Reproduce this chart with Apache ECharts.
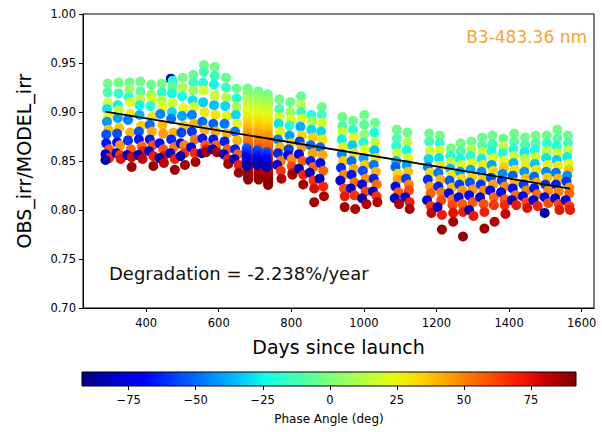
<!DOCTYPE html>
<html>
<head>
<meta charset="utf-8">
<title>Lunar irradiance ratio trend</title>
<script src="https://cdn.jsdelivr.net/npm/echarts@6/dist/echarts.min.js"></script>
<style>
  html, body { margin: 0; padding: 0; background: #fff; }
  #chart { width: 602px; height: 432px; }
</style>
</head>
<body>
<div id="chart"></div>
<script>
// Lunar observations grouped by monthly cycle: [day since launch, OBS/MODEL ratio, phase angle (deg)]
const monthlyObs = [
  [[294,0.929,-3],[294,0.920,-12],[294,0.909,18],[292,0.903,-28],[296,0.896,25],[292,0.890,-42],[296,0.882,38],[290,0.877,-55],[290,0.868,-66],[298,0.862,58],[288,0.857,-78],[298,0.853,68],[288,0.851,-86]],
  [[324,0.930,-2],[324,0.919,-16],[322,0.907,-26],[324,0.902,14],[322,0.894,-40],[326,0.884,36],[320,0.878,-55],[320,0.869,-68],[328,0.866,46],[318,0.858,-80],[328,0.856,64],[330,0.852,74]],
  [[354,0.930,-5],[354,0.923,6],[352,0.915,-22],[356,0.910,20],[356,0.898,28],[350,0.892,-46],[356,0.879,40],[350,0.871,-60],[358,0.862,56],[348,0.856,-82],[360,0.854,78],[360,0.844,86]],
  [[384,0.931,-3],[384,0.921,-8],[384,0.913,15],[382,0.907,-25],[382,0.897,-36],[386,0.886,35],[380,0.880,-54],[380,0.872,-66],[388,0.865,55],[390,0.860,72],[378,0.856,-84],[390,0.852,80]],
  [[414,0.928,-5],[414,0.918,8],[416,0.912,20],[412,0.906,-20],[416,0.895,30],[410,0.887,-50],[416,0.880,42],[410,0.872,-65],[418,0.866,60],[408,0.860,-78],[420,0.855,72],[420,0.845,88]],
  [[443,0.929,-2],[443,0.920,-18],[443,0.912,10],[445,0.905,22],[439,0.898,-45],[445,0.887,38],[447,0.878,45],[437,0.868,-70],[447,0.862,60],[449,0.855,75],[437,0.853,-86],[449,0.848,82]],
  [[468,0.934,-84],[473,0.932,-20],[473,0.926,-6],[471,0.919,-24],[473,0.909,16],[471,0.900,-30],[469,0.893,-48],[475,0.879,40],[469,0.872,-62],[477,0.864,52],[467,0.858,-80],[479,0.852,70],[479,0.841,87]],
  [[501,0.935,-2],[501,0.925,10],[499,0.916,-22],[503,0.904,24],[499,0.896,-40],[503,0.886,36],[497,0.879,-58],[495,0.868,-70],[505,0.866,50],[505,0.858,66],[495,0.855,-84],[507,0.846,86]],
  [[530,0.938,-6],[530,0.930,-14],[530,0.922,5],[528,0.912,-28],[532,0.905,20],[526,0.897,-46],[532,0.888,40],[526,0.880,-60],[534,0.872,52],[524,0.864,-74],[534,0.858,68],[536,0.849,85]],
  [[559,0.948,-4],[559,0.941,-12],[557,0.930,-20],[559,0.922,18],[557,0.910,-32],[561,0.900,28],[555,0.890,-50],[561,0.882,40],[555,0.873,-66],[563,0.866,58],[553,0.858,-82],[565,0.862,72],[565,0.859,88]],
  [[589,0.946,-3],[589,0.937,-14],[587,0.928,-24],[589,0.917,16],[587,0.907,-34],[591,0.897,30],[585,0.888,-52],[591,0.880,42],[585,0.872,-66],[593,0.866,56],[583,0.862,-80],[595,0.859,84]],
  [[620,0.935,-5],[620,0.925,-16],[620,0.915,12],[618,0.906,-30],[622,0.896,26],[616,0.888,-48],[622,0.878,40],[616,0.870,-64],[624,0.862,56],[614,0.857,-80],[626,0.852,70],[626,0.847,86]],
  [[649,0.924,-4],[649,0.914,-18],[649,0.905,10],[647,0.897,-30],[651,0.888,24],[645,0.880,-48],[651,0.871,40],[645,0.862,-64],[653,0.857,56],[643,0.852,-80],[655,0.846,70],[655,0.838,86]],
  [[680,0.924,-5],[680,0.9215,-2],[680,0.919,1],[680,0.9165,4],[680,0.914,7],[680,0.911,10],[680,0.9085,13],[680,0.906,15],[680,0.903,18],[680,0.9005,21],[680,0.898,23],[680,0.895,26],[680,0.8925,29],[680,0.890,31],[680,0.887,34],[680,0.8845,37],[680,0.882,39],[680,0.879,42],[680,0.8765,45],[681,0.874,47],[681,0.871,50],[681,0.8685,53],[681,0.866,55],[681,0.863,58],[681,0.8605,61],[681,0.858,63],[681,0.855,66],[681,0.8525,69],[681,0.850,71],[681,0.847,74],[681,0.8445,77],[681,0.842,79],[681,0.839,82],[681,0.8365,85],[681,0.834,87],[681,0.831,89],
   [677,0.863,-52],[677,0.860,-58],[677,0.857,-64],[677,0.854,-70],[677,0.851,-76],[677,0.848,-82],[677,0.845,-87]],
  [[709,0.921,-4],[709,0.9185,-1],[709,0.916,2],[709,0.913,5],[709,0.9105,8],[709,0.908,11],[709,0.905,14],[709,0.9025,17],[709,0.900,19],[709,0.897,22],[709,0.8945,25],[709,0.892,28],[709,0.889,31],[709,0.8865,33],[709,0.884,36],[709,0.881,39],[709,0.8785,42],[709,0.876,44],[710,0.873,47],[710,0.8705,50],[710,0.868,52],[710,0.865,55],[710,0.8625,58],[710,0.860,60],[710,0.857,63],[710,0.8545,66],[710,0.852,68],[710,0.849,71],[710,0.8465,74],[710,0.844,76],[710,0.841,79],[710,0.8385,82],[710,0.836,84],[710,0.833,87],[710,0.831,89],
   [706,0.861,-54],[706,0.858,-60],[706,0.855,-66],[706,0.852,-72],[706,0.849,-78],[706,0.846,-84]],
  [[735,0.918,-3],[735,0.9155,0],[735,0.913,3],[735,0.910,6],[735,0.9075,9],[735,0.905,12],[735,0.902,15],[735,0.8995,18],[735,0.897,21],[735,0.894,24],[735,0.8915,27],[735,0.889,29],[735,0.886,32],[735,0.8835,35],[735,0.881,38],[735,0.878,41],[735,0.8755,43],[735,0.873,46],[736,0.870,49],[736,0.8675,52],[736,0.865,54],[736,0.862,57],[736,0.8595,60],[736,0.857,62],[736,0.854,65],[736,0.8515,68],[736,0.849,70],[736,0.846,73],[736,0.8435,76],[736,0.841,78],[736,0.838,81],[736,0.8355,84],[736,0.833,86],[736,0.8305,88],[736,0.828,89],[736,0.8255,90],
   [732,0.859,-55],[732,0.856,-61],[732,0.853,-67],[732,0.850,-73],[732,0.847,-79],[732,0.844,-85]],
  [[767,0.913,-3],[767,0.903,-12],[767,0.895,18],[765,0.888,-28],[769,0.880,26],[763,0.872,-46],[769,0.864,40],[763,0.858,-62],[771,0.850,52],[761,0.846,-76],[771,0.840,66],[773,0.832,84]],
  [[797,0.910,-4],[797,0.900,8],[799,0.892,20],[795,0.886,-22],[795,0.876,-40],[799,0.868,34],[793,0.862,-58],[791,0.856,-72],[801,0.852,48],[801,0.845,62],[803,0.838,74],[803,0.836,86]],
  [[827,0.916,-5],[827,0.907,14],[827,0.900,-18],[829,0.893,22],[825,0.885,-38],[829,0.876,34],[823,0.870,-56],[829,0.864,44],[821,0.857,-72],[831,0.850,58],[821,0.842,-84],[833,0.836,70],[833,0.826,86]],
  [[855,0.897,-20],[857,0.890,10],[855,0.882,-30],[859,0.874,36],[853,0.866,-50],[859,0.858,44],[853,0.850,-66],[861,0.844,56],[851,0.838,-80],[861,0.830,66],[863,0.822,76],[863,0.808,86]],
  [[884,0.905,-4],[884,0.897,-14],[884,0.889,18],[882,0.880,-30],[886,0.872,30],[880,0.864,-50],[886,0.856,42],[880,0.848,-68],[888,0.840,56],[878,0.832,-82],[888,0.824,68],[890,0.814,84]],
  [[941,0.895,-3],[941,0.886,-12],[941,0.880,16],[939,0.872,-26],[943,0.864,26],[939,0.857,-44],[943,0.850,36],[937,0.843,-62],[945,0.836,48],[935,0.830,-78],[945,0.822,60],[947,0.814,72],[947,0.803,86]],
  [[970,0.891,-5],[970,0.882,-18],[972,0.874,20],[968,0.866,-32],[972,0.858,30],[966,0.850,-50],[972,0.842,42],[966,0.836,-66],[974,0.828,54],[964,0.822,-80],[974,0.815,66],[976,0.801,84]],
  [[1001,0.897,-3],[1001,0.887,-8],[1001,0.877,5],[999,0.869,-22],[1003,0.862,22],[999,0.853,-40],[1003,0.846,36],[997,0.840,-56],[1005,0.832,48],[995,0.826,-72],[1005,0.819,62],[995,0.812,-86],[1007,0.806,84]],
  [[1031,0.889,-4],[1029,0.879,-22],[1031,0.869,16],[1029,0.861,-34],[1033,0.853,30],[1027,0.846,-48],[1033,0.839,40],[1027,0.832,-64],[1035,0.826,54],[1025,0.819,-80],[1035,0.814,66],[1037,0.808,84]],
  [[1091,0.882,-4],[1091,0.873,-10],[1089,0.865,-20],[1091,0.858,18],[1089,0.850,-36],[1087,0.844,-52],[1093,0.837,34],[1093,0.831,44],[1087,0.824,-68],[1095,0.818,58],[1085,0.812,-82],[1097,0.806,84]],
  [[1120,0.879,-3],[1120,0.869,12],[1118,0.861,-24],[1122,0.853,24],[1118,0.846,-40],[1122,0.839,38],[1116,0.832,-58],[1124,0.826,50],[1124,0.820,62],[1114,0.813,-78],[1126,0.808,70],[1126,0.801,86]],
  [[1180,0.878,-3],[1180,0.870,-14],[1182,0.860,20],[1178,0.852,-30],[1176,0.844,-46],[1182,0.838,32],[1176,0.831,-62],[1182,0.824,44],[1184,0.817,56],[1174,0.810,-78],[1184,0.804,66],[1186,0.797,80]],
  [[1209,0.876,-4],[1209,0.868,-16],[1209,0.861,18],[1207,0.853,-28],[1211,0.845,30],[1205,0.838,-48],[1211,0.831,40],[1205,0.824,-64],[1213,0.818,52],[1213,0.810,62],[1203,0.803,-82],[1215,0.795,72],[1215,0.780,88]],
  [[1240,0.863,-2],[1238,0.855,-20],[1240,0.849,16],[1238,0.842,-36],[1242,0.836,28],[1236,0.830,-54],[1242,0.823,40],[1234,0.817,-70],[1244,0.811,52],[1244,0.805,62],[1246,0.797,74],[1246,0.788,86]],
  [[1267,0.868,-4],[1267,0.860,-12],[1265,0.852,-24],[1269,0.846,20],[1265,0.839,-40],[1269,0.832,32],[1263,0.826,-58],[1271,0.820,46],[1261,0.813,-74],[1271,0.806,58],[1273,0.798,70],[1273,0.773,88]],
  [[1296,0.870,-3],[1296,0.862,10],[1294,0.855,-22],[1298,0.848,24],[1294,0.841,-38],[1298,0.834,34],[1292,0.828,-54],[1300,0.821,46],[1290,0.815,-70],[1300,0.808,58],[1290,0.800,-84],[1302,0.794,72]],
  [[1326,0.874,-5],[1326,0.866,-8],[1326,0.859,16],[1324,0.852,-26],[1328,0.846,26],[1324,0.839,-44],[1328,0.832,36],[1322,0.826,-60],[1330,0.820,48],[1320,0.813,-76],[1330,0.806,60],[1332,0.798,70],[1332,0.781,86]],
  [[1354,0.876,-4],[1354,0.867,-14],[1352,0.860,-24],[1356,0.853,20],[1352,0.846,-40],[1356,0.840,32],[1350,0.833,-56],[1356,0.826,44],[1348,0.820,-72],[1358,0.813,56],[1358,0.805,66],[1360,0.788,84]],
  [[1384,0.873,-3],[1384,0.865,14],[1382,0.858,-20],[1386,0.850,24],[1386,0.843,36],[1382,0.837,-44],[1380,0.830,-58],[1388,0.824,48],[1378,0.818,-72],[1388,0.811,58],[1388,0.805,68],[1390,0.796,80]],
  [[1414,0.878,-2],[1414,0.870,-8],[1412,0.862,-22],[1414,0.855,18],[1412,0.848,-36],[1416,0.841,30],[1410,0.835,-52],[1416,0.828,40],[1410,0.822,-68],[1418,0.815,54],[1408,0.810,-82],[1420,0.805,72]],
  [[1444,0.874,-4],[1444,0.866,-12],[1442,0.859,-26],[1444,0.852,14],[1446,0.845,28],[1442,0.839,-42],[1446,0.832,38],[1440,0.826,-58],[1448,0.820,50],[1438,0.814,-74],[1448,0.808,62],[1450,0.802,76]],
  [[1473,0.876,-3],[1473,0.868,-10],[1471,0.861,-22],[1473,0.854,18],[1471,0.847,-34],[1475,0.841,30],[1469,0.834,-50],[1475,0.828,42],[1469,0.822,-66],[1477,0.816,54],[1467,0.810,-80],[1479,0.804,70]],
  [[1504,0.876,-4],[1504,0.868,-18],[1504,0.860,14],[1502,0.853,-28],[1506,0.846,26],[1502,0.839,-44],[1506,0.833,36],[1500,0.826,-60],[1508,0.820,48],[1498,0.813,-72],[1508,0.807,60],[1498,0.797,-86]],
  [[1533,0.882,-3],[1533,0.873,-10],[1531,0.865,-20],[1533,0.858,18],[1531,0.851,-32],[1535,0.845,28],[1529,0.838,-48],[1535,0.832,38],[1529,0.826,-64],[1537,0.819,50],[1527,0.812,-80],[1537,0.806,62],[1539,0.800,74]],
  [[1562,0.876,-5],[1562,0.868,-14],[1562,0.861,16],[1560,0.854,-26],[1564,0.847,24],[1564,0.841,36],[1560,0.835,-44],[1558,0.829,-60],[1566,0.823,46],[1566,0.817,56],[1556,0.810,-78],[1566,0.804,64],[1568,0.800,72]]
];

// Axis ticks
const dayTicks = [400, 600, 800, 1000, 1200, 1400, 1600];
const ratioTicks = [0.70, 0.75, 0.80, 0.85, 0.90, 0.95, 1.00];
const phaseTicks = [-75, -50, -25, 0, 25, 50, 75];
const phaseRange = [-92.4, 91.8];

// Linear trend: ratio at launch and yearly degradation (percent of the model)
const fitRatioAtLaunch = 0.918;
const degradationPctPerYear = -2.238;
const bandLabel = 'B3-483.36 nm';

// jet colour map, sampled evenly
const jet = ['#000080','#0000C8','#0000FF','#0040FF','#0080FF','#00BFFF','#15FFE2','#48FFAF',
             '#7BFF7B','#AFFF48','#E2FF15','#FFD200','#FF9700','#FF5C00','#FF2100','#C80000','#800000'];

const points = monthlyObs.flat();
const firstDay = Math.min(...points.map(p => p[0]));
const lastDay = Math.max(...points.map(p => p[0]));
const slopePerDay = degradationPctPerYear / 100 / 365;
const trend = [firstDay, lastDay].map(d => [d, fitRatioAtLaunch + slopePerDay * d]);

const FONT = 'DejaVu Sans';
const minus = v => String(v).replace('-', '\u2212');

const chart = echarts.init(document.getElementById('chart'), null, { renderer: 'svg' });
chart.setOption({
  animation: false,
  backgroundColor: '#fff',
  textStyle: { fontFamily: FONT, color: '#000' },
  grid: [
    { left: 83, top: 14, width: 511, height: 294, show: true, borderColor: '#000', borderWidth: 1, backgroundColor: 'transparent' },
    { left: 82, top: 372, width: 494, height: 14 }
  ],
  xAxis: [
    {
      type: 'value', gridIndex: 0, min: 226, max: 1634,
      axisLine: { show: true, lineStyle: { color: '#000', width: 1 } },
      axisTick: { show: true, length: 4, customValues: dayTicks, lineStyle: { color: '#000' } },
      axisLabel: { customValues: dayTicks, fontSize: 11.5, color: '#000', margin: 9, fontFamily: FONT, formatter: v => String(v) },
      splitLine: { show: false },
      name: 'Days since launch', nameLocation: 'middle', nameGap: 29,
      nameTextStyle: { fontSize: 19, color: '#000', fontFamily: FONT }
    },
    {
      type: 'value', gridIndex: 1, min: phaseRange[0], max: phaseRange[1],
      axisLine: { show: false },
      axisTick: { show: true, length: 4, customValues: phaseTicks, lineStyle: { color: '#000' } },
      axisLabel: { customValues: phaseTicks, fontSize: 11.5, color: '#000', margin: 8, fontFamily: FONT, formatter: minus },
      splitLine: { show: false },
      name: 'Phase Angle (deg)', nameLocation: 'middle', nameGap: 27,
      nameTextStyle: { fontSize: 12, color: '#000', fontFamily: FONT }
    }
  ],
  yAxis: [
    {
      type: 'value', gridIndex: 0, min: 0.70, max: 1.00,
      axisLine: { show: true, lineStyle: { color: '#000', width: 1 } },
      axisTick: { show: true, length: 4, customValues: ratioTicks, lineStyle: { color: '#000' } },
      axisLabel: { customValues: ratioTicks, fontSize: 11.5, color: '#000', margin: 7, fontFamily: FONT, formatter: v => v.toFixed(2) },
      splitLine: { show: false },
      name: 'OBS_irr/MODEL_irr', nameLocation: 'middle', nameGap: 50, nameRotate: 90,
      nameTextStyle: { fontSize: 19, color: '#000', fontFamily: FONT }
    },
    { type: 'value', gridIndex: 1, min: 0, max: 1, show: false }
  ],
  visualMap: {
    type: 'continuous', show: false, seriesIndex: 0, dimension: 2,
    min: phaseRange[0], max: phaseRange[1], inRange: { color: jet }
  },
  series: [
    {
      name: 'ratio', type: 'scatter', xAxisIndex: 0, yAxisIndex: 0,
      data: points, symbol: 'circle', symbolSize: 10,
      itemStyle: { opacity: 1 }, silent: true, large: false, progressive: 0
    },
    {
      name: 'trend', type: 'line', xAxisIndex: 0, yAxisIndex: 0,
      data: trend, showSymbol: false, symbol: 'none', silent: true, z: 5,
      lineStyle: { color: '#000', width: 1.8 }
    },
    {
      name: 'colorbar', type: 'custom', xAxisIndex: 1, yAxisIndex: 1, silent: true,
      data: [[phaseRange[0], 0]],
      renderItem(params) {
        const cs = params.coordSys;
        return {
          type: 'rect',
          shape: { x: cs.x, y: cs.y, width: cs.width, height: cs.height },
          style: {
            fill: new echarts.graphic.LinearGradient(0, 0, 1, 0,
              jet.map((c, i) => ({ offset: i / (jet.length - 1), color: c }))),
            stroke: '#000', lineWidth: 1
          }
        };
      }
    }
  ],
  graphic: [
    {
      type: 'text', x: 109, y: 273, silent: true,
      style: { text: 'Degradation = ' + degradationPctPerYear.toFixed(3) + '%/year', fontSize: 18, fontFamily: FONT, fill: '#111', align: 'left', verticalAlign: 'middle' }
    },
    {
      type: 'text', x: 587, y: 37, silent: true,
      style: { text: bandLabel, fontSize: 17, fontFamily: FONT, fill: '#F4A431', align: 'right', verticalAlign: 'middle' }
    }
  ]
});
</script>
</body>
</html>
